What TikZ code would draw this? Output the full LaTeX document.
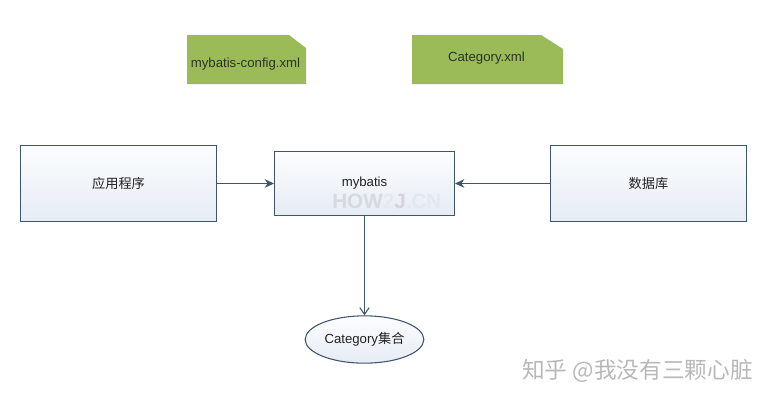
\documentclass[tikz,border=0pt]{standalone}
\usepackage{fontspec}
\setmainfont{Liberation Sans}
\newfontfamily\cjk{Noto Sans CJK SC}
\usetikzlibrary{arrows.meta,shapes.geometric}
\definecolor{edgeblue}{HTML}{3F556E}
\definecolor{topfill}{HTML}{FCFDFE}
\definecolor{botfill}{HTML}{E6ECF5}
\definecolor{notegreen}{HTML}{9BBB59}
\definecolor{txt}{HTML}{222222}
\tikzset{
  x=0.75pt,y=-0.75pt,
  procbox/.style={draw=edgeblue,line width=0.8pt,top color=topfill,bottom color=botfill,text=txt,inner sep=0pt,font=\fontsize{9.9pt}{11pt}\selectfont},
  resultell/.style={procbox,ellipse},
  notetext/.style={text=txt!90!notegreen,inner sep=0pt,font=\fontsize{9.9pt}{11pt}\selectfont},
  link/.style={draw=edgeblue,line width=0.8pt},
  solidtip/.style={link,-{Stealth[length=7pt,width=6.5pt]}},
  opentip/.style={link,-{Straight Barb[length=5pt,width=7pt]}},
  mark1/.style={inner sep=0pt,font=\fontsize{15.5pt}{17pt}\selectfont\bfseries},
}
\begin{document}
\begin{tikzpicture}
\useasboundingbox (0,0) rectangle (772,401);
\fill[notegreen] (187,35) -- (289,35) -- (306,48) -- (306,84) -- (187,84) -- cycle;
\fill[notegreen] (412,35) -- (541,35) -- (563,49) -- (563,84) -- (412,84) -- cycle;
\node[notetext] (cfg) at (245.5,64) {mybatis-config.xml};
\node[notetext] (cat) at (486.5,58) {Category.xml};
\node[procbox,minimum width=147pt,minimum height=57pt] (app) at (118.5,183.5) {\cjk\raisebox{-1pt}{应用程序}};
\node[procbox,minimum width=135pt,minimum height=48pt] (mb) at (364.5,183.5) {mybatis};
\node[procbox,minimum width=147pt,minimum height=57pt] (db) at (648.5,183.5) {\cjk\raisebox{-1pt}{数据库}};
\node[resultell,minimum width=89pt,minimum height=35.5pt] (set) at (364.5,339.5) {Category{\cjk 集合}};
\node[mark1,anchor=base west] (wm) at (332,208) {\textcolor[HTML]{D6D9DE}{HOW}\textcolor[HTML]{E6E9EF}{2}\textcolor[HTML]{D2D4D9}{J}\textcolor[HTML]{E3E8EF}{.CN}};
\node[anchor=base west,inner sep=0pt,text=black!28,font=\cjk\fontsize{17pt}{18pt}\selectfont] (zh) at (522,378) {知乎 @我没有三颗心脏};
\draw[solidtip] (app) -- (mb);
\draw[solidtip] (db) -- (mb);
\draw[opentip] (mb) -- (set);
\end{tikzpicture}
\end{document}
